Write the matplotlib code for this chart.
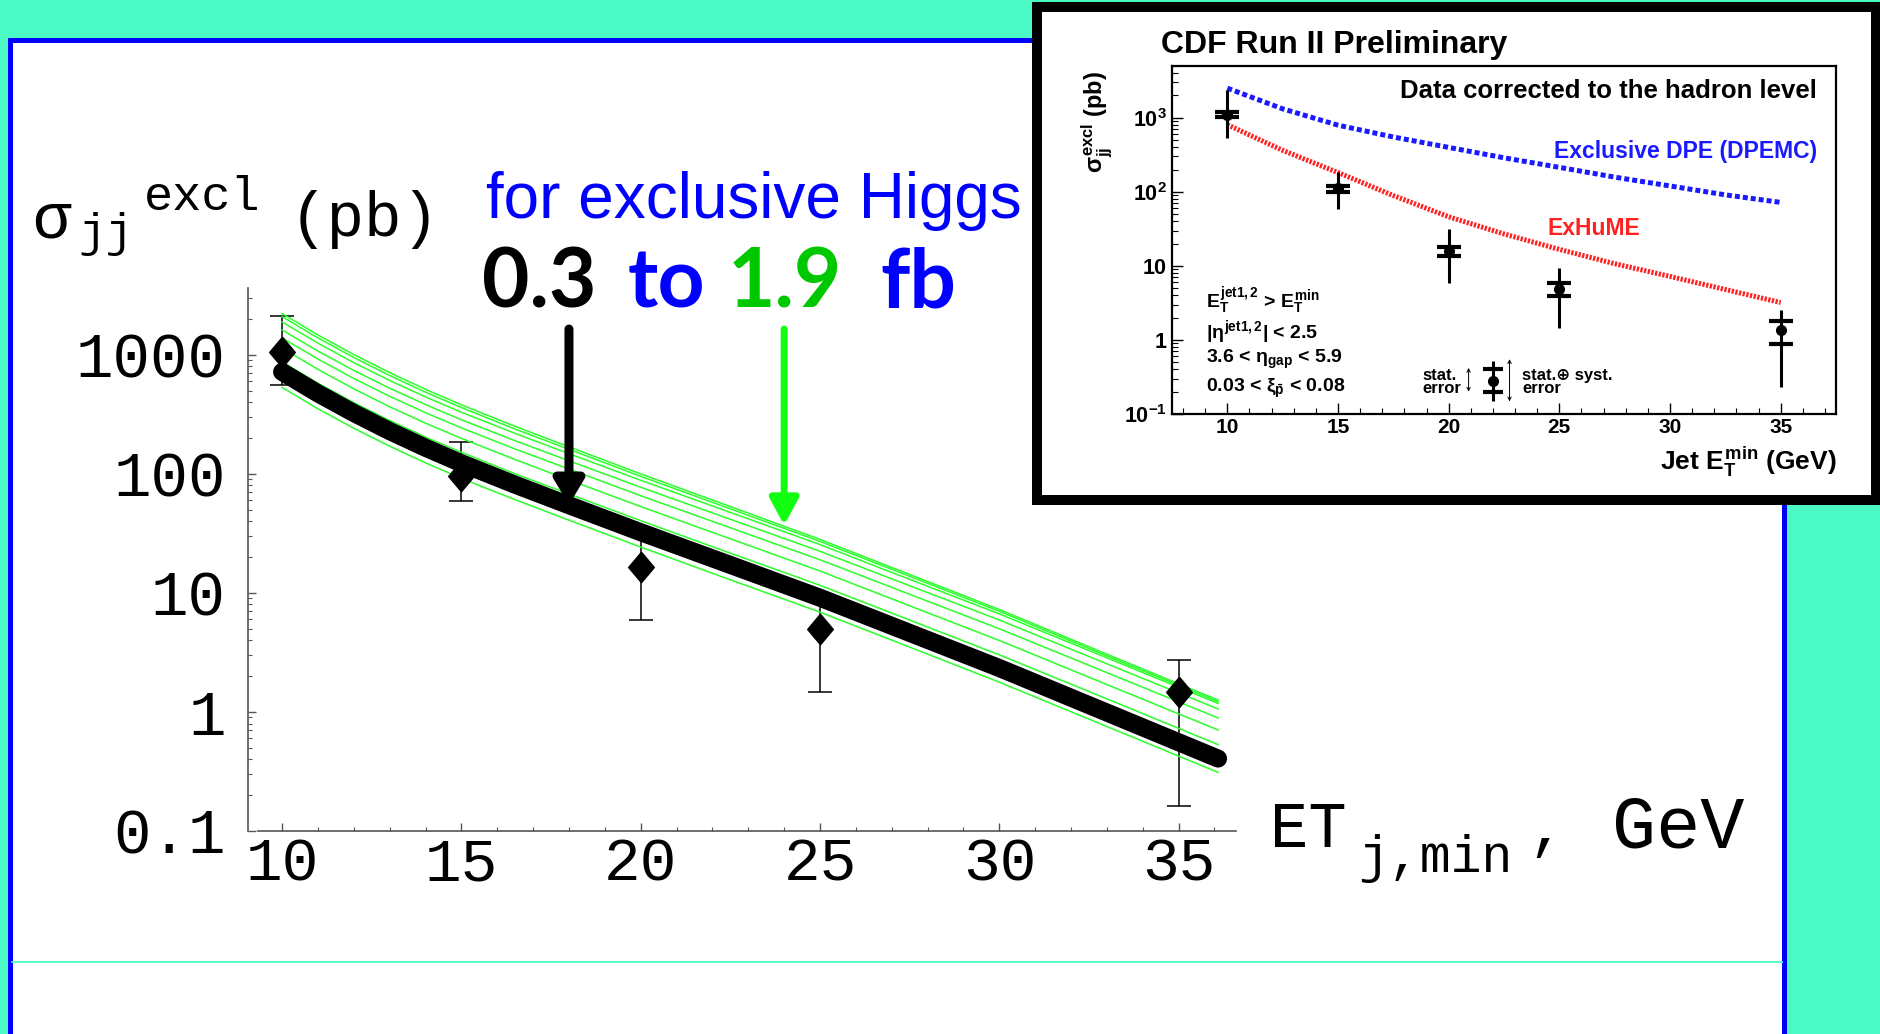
import matplotlib
matplotlib.use("Agg")
import matplotlib.pyplot as plt
from matplotlib.patches import Rectangle
from matplotlib.lines import Line2D
from matplotlib.ticker import FixedLocator, LogLocator, NullFormatter

plt.rcParams['mathtext.fontset'] = 'custom'
plt.rcParams['mathtext.rm'] = 'Liberation Sans:bold'
plt.rcParams['mathtext.it'] = 'Liberation Sans:bold'
plt.rcParams['mathtext.bf'] = 'Liberation Sans:bold'

W, H = 1881, 1034
PT = 0.72  # points per pixel at dpi 100

TEAL = "#4bf9c4"
BLUE = "#0000ff"
MONO = "Liberation Mono"
SANS = "Liberation Sans"

# ---- main plot: fit curve and green band
et_fit = [10, 11, 12, 13, 14, 15, 16.5, 18, 20, 22.5, 25, 27.5, 30, 33, 36.1]
sigma_fit = [720, 475, 325, 229, 166, 123, 81.2, 54.6, 32.4, 17.2, 9.12, 4.62, 2.34, 0.989, 0.406]
green_curves = [
    [2228, 1472, 1007, 710, 514, 381, 251, 169, 100.2, 53.2, 28.2, 14.3, 7.26, 3.06, 1.26],
    [2099, 1390, 951, 671, 486, 361, 238, 161, 95.5, 50.9, 27.1, 13.8, 7.01, 2.96, 1.22],
    [1892, 1256, 861, 610, 444, 330, 219, 148, 88.5, 47.5, 25.5, 13.0, 6.67, 2.85, 1.18],
    [1622, 1076, 741, 525, 383, 285, 190, 129, 77.3, 41.6, 22.4, 11.5, 5.93, 2.54, 1.06],
    [1390, 923, 634, 449, 327, 244, 162, 110, 65.6, 35.3, 19.0, 9.75, 5.00, 2.14, 0.891],
    [1140, 757, 519, 367, 267, 199, 132, 89.1, 53.2, 28.5, 15.3, 7.80, 3.99, 1.70, 0.706],
    [873, 578, 397, 281, 204, 152, 100, 67.8, 40.5, 21.6, 11.6, 5.92, 3.02, 1.29, 0.532],
    [605, 401, 274, 194, 140, 104, 68.9, 46.5, 27.6, 14.7, 7.83, 3.99, 2.03, 0.859, 0.354],
    [533, 353, 242, 171, 124, 91.8, 60.7, 40.9, 24.3, 12.9, 6.90, 3.51, 1.78, 0.755, 0.311],
]
et_data = [10, 15, 20, 25, 35]
sigma_data = [1050, 97, 16.5, 5.0, 1.47]
sigma_hi = [2130, 186, 33, 9.0, 2.73]
sigma_lo = [560, 59, 5.9, 1.47, 0.162]
y_ticks = [0.1, 1, 10, 100, 1000]
y_labels = ["0.1", "1", "10", "100", "1000"]
x_ticks = [10, 15, 20, 25, 30, 35]

# ---- inset (CDF Run II)
cdf_et = [10, 15, 20, 25, 35]
cdf_sigma = [1100, 113, 15.7, 4.94, 1.36]
cdf_stat_hi = [1180, 121, 18.2, 5.83, 1.81]
cdf_stat_lo = [1020, 99, 13.6, 3.87, 0.88]
cdf_tot_hi = [2380, 186, 31, 9.3, 2.5]
cdf_tot_lo = [537, 59, 5.9, 1.45, 0.23]
model_et = [10, 12.5, 15, 17.5, 20, 22.5, 25, 27.5, 30, 32.5, 35]
dpemc = [2510, 1320, 794, 550, 398, 288, 214, 158, 120, 91, 72]
exhume = [805, 363, 182, 89, 46, 27, 16.7, 10.7, 7.2, 4.8, 3.2]
cdf_y_labels = [r"$10^{-1}$", "1", "10", r"$10^{2}$", r"$10^{3}$"]
key_et = [22.0]
key_sigma = [0.28]
key_stat = [0.2, 0.405]
key_tot = [0.148, 0.52]


def fx(px):
    return px / W


def fy(py):
    return 1 - py / H


fig = plt.figure(figsize=(W / 100, H / 100), dpi=100)
fig.patch.set_facecolor(TEAL)

# slide panel
fig.add_artist(Rectangle((fx(9.5), fy(1100)), fx(1784.5) - fx(9.5), fy(39.5) - fy(1100),
                         transform=fig.transFigure, facecolor="white", edgecolor=BLUE,
                         lw=5 * PT, zorder=-5))
fig.add_artist(Line2D([fx(12), fx(1782)], [fy(962), fy(962)], transform=fig.transFigure,
                      color=TEAL, lw=1.3, zorder=-4))

# ---------------- main axes
ax = fig.add_axes([fx(248), fy(831), fx(1236) - fx(248), fy(288) - fy(831)])
ax.set_facecolor("none")
ax.set_yscale("log")
ax.set_xlim(9.05, 36.6)
ax.set_ylim(0.1, 3650)

yerr = [[s - l for s, l in zip(sigma_data, sigma_lo)],
        [h - s for s, h in zip(sigma_data, sigma_hi)]]
ax.errorbar(et_data, sigma_data, yerr=yerr, fmt="none", ecolor="black",
            elinewidth=1.1, capsize=8.3, capthick=1.1, zorder=2)
for g in green_curves:
    ax.plot(et_fit, g, color="#2bff2b", lw=1.1, zorder=3)
ax.plot(et_fit, sigma_fit, color="black", lw=13, solid_capstyle="round",
        solid_joinstyle="round", zorder=4)
diamond = [(0, 1), (0.84, 0), (0, -1), (-0.84, 0), (0, 1)]
ax.plot(et_data, sigma_data, ls="none", marker=diamond, ms=22, color="black", zorder=5)

for s in ["top", "right"]:
    ax.spines[s].set_visible(False)
for s in ["left", "bottom"]:
    ax.spines[s].set_color("#555555")
    ax.spines[s].set_linewidth(1.2)
ax.spines["bottom"].set_bounds(9.33, 36.6)

ax.yaxis.set_major_locator(FixedLocator(y_ticks))
ax.yaxis.set_minor_locator(LogLocator(base=10, subs=range(2, 10)))
ax.yaxis.set_minor_formatter(NullFormatter())
ax.set_yticklabels(y_labels, fontsize=45, fontfamily=MONO)
ax.set_xticks(x_ticks)
ax.set_xticklabels([str(v) for v in x_ticks], fontsize=44, fontfamily=MONO)
ax.set_xticks(range(10, 37), minor=True)
ax.tick_params(which="major", direction="in", length=6, width=1, color="#555555")
ax.tick_params(which="minor", direction="in", length=3, width=0.8, color="#555555")
ax.tick_params(axis="y", which="major", pad=16)
ax.tick_params(axis="x", which="major", pad=4)

# arrows
ax.annotate("", xy=(18, 55), xytext=(18, 1650), annotation_clip=False,
            arrowprops=dict(arrowstyle="-|>,head_length=0.72,head_width=0.43",
                            mutation_scale=20, lw=6.5, color="black",
                            shrinkA=0, shrinkB=0), zorder=6)
ax.annotate("", xy=(24, 37), xytext=(24, 1650), annotation_clip=False,
            arrowprops=dict(arrowstyle="-|>,head_length=0.8,head_width=0.43",
                            mutation_scale=20, lw=5, color="#11ff11",
                            shrinkA=0, shrinkB=0), zorder=6)

# axis titles (Mathematica style)
fig.text(fx(32), fy(237), "\u03c3", fontsize=46, family=MONO, va="baseline")
fig.text(fx(78), fy(246), "jj", fontsize=33, family=MONO, va="baseline")
fig.text(fx(144), fy(210), "excl", fontsize=35, family=MONO, va="baseline")
fig.text(fx(290), fy(236), "(pb)", fontsize=45, family=MONO, va="baseline")

fig.text(fx(1270), fy(847), "ET", fontsize=46, family=MONO, va="baseline")
fig.text(fx(1358), fy(872), "j,min", fontsize=37, family=MONO, va="baseline")
fig.text(fx(1528), fy(847), ",", fontsize=44, family=MONO, va="baseline")
fig.text(fx(1612), fy(847), "GeV", fontsize=53, family=MONO, va="baseline")

# annotations
fig.text(fx(486), fy(218), "for exclusive Higgs", fontsize=46, family=SANS,
         color=BLUE, va="baseline")
big = dict(fontsize=59, family="Lato", weight="bold", va="baseline")
fig.text(fx(482), fy(308), "0.3", color="black", **big)
fig.text(fx(628), fy(308), "to", color=BLUE, **big)
fig.text(fx(728), fy(308), "1.9", color="#00c800", **big)
fig.text(fx(880), fy(308), "fb", color=BLUE, **big)

# ---------------- inset
fig.add_artist(Rectangle((fx(1037), fy(500)), fx(1876) - fx(1037), fy(7) - fy(500),
                         transform=fig.transFigure, facecolor="white", edgecolor="black",
                         lw=10 * PT, zorder=5))
ins = fig.add_axes([fx(1172), fy(414), fx(1836) - fx(1172), fy(66) - fy(414)], zorder=6)
ins.set_facecolor("white")
ins.set_yscale("log")
ins.set_xlim(7.5, 37.5)
ins.set_ylim(0.1, 5000)
for s in ins.spines.values():
    s.set_linewidth(1.6)

ins.plot(model_et, dpemc, color="#1a1aff", lw=3.6, ls=(0, (1.0, 0.6)))
ins.plot(model_et, exhume, color="#ff2020", lw=3.6, ls=(0, (0.45, 0.3)))

tot = [[s - l for s, l in zip(cdf_sigma, cdf_tot_lo)],
       [h - s for s, h in zip(cdf_sigma, cdf_tot_hi)]]
stat = [[s - l for s, l in zip(cdf_sigma, cdf_stat_lo)],
        [h - s for s, h in zip(cdf_sigma, cdf_stat_hi)]]
ins.errorbar(cdf_et, cdf_sigma, yerr=tot, fmt="none", ecolor="black", elinewidth=2.2)
ins.errorbar(cdf_et, cdf_sigma, yerr=stat, fmt="o", ms=7, color="black",
             elinewidth=0, capsize=8.6, capthick=3)

# legend key
ins.errorbar(key_et, key_sigma, yerr=[[key_sigma[0] - key_tot[0]], [key_tot[1] - key_sigma[0]]],
             fmt="none", ecolor="black", elinewidth=2.2)
ins.errorbar(key_et, key_sigma, yerr=[[key_sigma[0] - key_stat[0]], [key_stat[1] - key_sigma[0]]],
             fmt="o", ms=7, color="black", elinewidth=0, capsize=7, capthick=3)
ins.annotate("", xy=(20.9, 0.42), xytext=(20.9, 0.2),
             arrowprops=dict(arrowstyle="<->", lw=0.7, mutation_scale=6, shrinkA=0, shrinkB=0))
ins.annotate("", xy=(22.75, 0.55), xytext=(22.75, 0.148),
             arrowprops=dict(arrowstyle="<->", lw=0.7, mutation_scale=6, shrinkA=0, shrinkB=0))

ins.set_xticks(x_ticks)
ins.set_xticklabels([str(v) for v in x_ticks], fontsize=15, family=SANS, weight="bold")
ins.set_xticks(range(8, 38), minor=True)
ins.yaxis.set_major_locator(FixedLocator(y_ticks))
ins.yaxis.set_minor_locator(LogLocator(base=10, subs=range(2, 10)))
ins.yaxis.set_minor_formatter(NullFormatter())
ins.set_yticklabels(cdf_y_labels, fontsize=15.5, family=SANS, weight="bold")
ins.tick_params(which="major", direction="in", length=8, width=1)
ins.tick_params(which="minor", direction="in", length=4, width=0.8)
ins.tick_params(axis="x", pad=3)
ins.tick_params(axis="y", pad=4)

bold = dict(family=SANS, weight="bold", zorder=8)
fig.text(fx(1161), fy(53), "CDF Run II Preliminary", fontsize=23, va="baseline", **bold)
fig.text(fx(1817), fy(98), "Data corrected to the hadron level", fontsize=18.5,
         ha="right", va="baseline", **bold)
fig.text(fx(1817), fy(158), "Exclusive DPE (DPEMC)", fontsize=16.5, color="#1a1aff",
         ha="right", va="baseline", **bold)
fig.text(fx(1548), fy(235), "ExHuME", fontsize=16.5, color="#ff2020", va="baseline", **bold)
fig.text(fx(1206), fy(308), r"$E_T^{jet1,2}$ > $E_T^{min}$", fontsize=14, va="baseline", **bold)
fig.text(fx(1206), fy(338), r"$|\eta^{jet1,2}|$ < 2.5", fontsize=14, va="baseline", **bold)
fig.text(fx(1206), fy(363), r"3.6 < $\eta_{gap}$ < 5.9", fontsize=14, va="baseline", **bold)
fig.text(fx(1206), fy(392), r"0.03 < $\xi_{\bar{p}}$ < 0.08", fontsize=14, va="baseline", **bold)
fig.text(fx(1422), fy(382), "stat.\nerror", fontsize=12, va="center", linespacing=0.85, **bold)
fig.text(fx(1522), fy(382), "stat.\u2295 syst.\nerror", fontsize=12, va="center",
         linespacing=0.85, family=[SANS, "DejaVu Sans"], weight="bold", zorder=8)
fig.text(fx(1097), fy(122), r"$\sigma_{jj}^{excl}$ (pb)", fontsize=17, rotation=90,
         ha="center", va="center", **bold)
fig.text(fx(1837), fy(470), r"Jet $E_T^{min}$ (GeV)", fontsize=19, ha="right",
         va="baseline", **bold)

fig.savefig("out.png", dpi=100, facecolor=fig.get_facecolor())
